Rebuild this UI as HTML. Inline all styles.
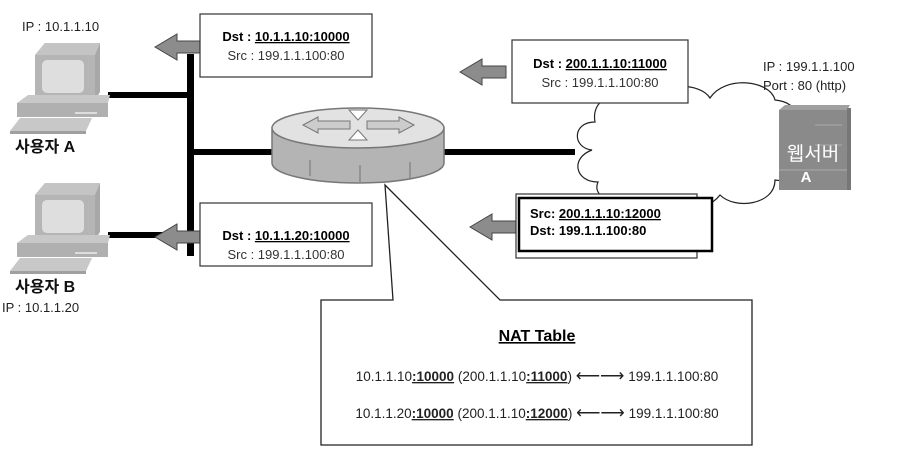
<!DOCTYPE html>
<html><head><meta charset="utf-8"><style>
html,body{margin:0;padding:0;background:#fff;}
svg{display:block;font-family:"Liberation Sans","Noto Sans CJK KR",sans-serif;}
</style></head><body>
<svg width="914" height="449" viewBox="0 0 914 449" xmlns="http://www.w3.org/2000/svg">
<defs>
<g id="pc">
  <polygon points="35,55 45,43 100,43 100,92 95,100 95,55" fill="#a8a8a8"/>
  <polygon points="35,55 45,43 100,43 95,55" fill="#c4c4c4"/>
  <rect x="35" y="55" width="60" height="46" fill="#b5b5b5"/>
  <rect x="42" y="60" width="42" height="33" rx="5" fill="#dedede"/>
  <polygon points="17,103 28,95 110,95 108,103" fill="#c8c8c8"/>
  <rect x="17" y="103" width="91" height="14" fill="#b0b0b0"/>
  <rect x="75" y="112" width="22" height="2" fill="#ddd"/>
  <polygon points="10,131 20,118 92,118 86,131" fill="#c8c8c8"/>
  <rect x="10" y="131" width="76" height="3" fill="#a0a0a0"/>
</g>
<g id="arr">
  <polygon points="0,0 22,-13 22,-6 46,-6 46,6 22,6 22,13" fill="#8c8c8c" stroke="#444" stroke-width="1"/>
</g>
</defs>

<!-- cloud (behind) -->
<path d="M592,150 C572,148 572,122 595,122 C590,95 625,85 650,100 C660,82 700,82 710,98 C725,75 770,80 775,100 C800,102 805,125 790,138 C805,155 800,185 775,180 C775,205 735,210 720,195 C705,215 660,215 650,200 C625,210 590,200 598,182 C575,182 570,158 592,150 Z" fill="#fff" stroke="#222" stroke-width="1.2"/>

<!-- wires -->
<rect x="187" y="54" width="7" height="202" fill="#000"/>
<rect x="108" y="92" width="82" height="6" fill="#000"/>
<rect x="108" y="232" width="82" height="6" fill="#000"/>
<rect x="190" y="149" width="90" height="6" fill="#000"/>
<rect x="440" y="149" width="135" height="6" fill="#000"/>

<!-- PCs -->
<use href="#pc"/>
<use href="#pc" transform="translate(0,140)"/>
<text x="22" y="31" font-size="13" fill="#222">IP : 10.1.1.10</text>
<text x="15" y="152" font-size="16" font-weight="bold" fill="#111">사용자 A</text>
<text x="15" y="292" font-size="16" font-weight="bold" fill="#111">사용자 B</text>
<text x="2" y="312" font-size="13" fill="#222">IP : 10.1.1.20</text>

<!-- boxes left -->
<use href="#arr" transform="translate(155,47)"/>
<rect x="200" y="14" width="172" height="63" fill="#fff" stroke="#333" stroke-width="1.2"/>
<text x="286" y="41" font-size="13" font-weight="bold" text-anchor="middle">Dst : <tspan text-decoration="underline">10.1.1.10:10000</tspan></text>
<text x="286" y="60" font-size="13" text-anchor="middle" fill="#333">Src : 199.1.1.100:80</text>

<use href="#arr" transform="translate(155,237)"/>
<rect x="200" y="203" width="172" height="63" fill="#fff" stroke="#333" stroke-width="1.2"/>
<text x="286" y="240" font-size="13" font-weight="bold" text-anchor="middle">Dst : <tspan text-decoration="underline">10.1.1.20:10000</tspan></text>
<text x="286" y="259" font-size="13" text-anchor="middle" fill="#333">Src : 199.1.1.100:80</text>

<!-- router -->
<path d="M272,128 L272,163 A86,20 0 0 0 444,163 L444,128 Z" fill="#b4b4b4" stroke="#777" stroke-width="1.5"/>
<path d="M310,176 L310,160 M360,183 L360,165 M410,178 L410,162" stroke="#888" stroke-width="1.5"/>
<ellipse cx="358" cy="128" rx="86" ry="20" fill="#e2e2e2" stroke="#777" stroke-width="1.5"/>
<path d="M303,125 L318,117 L318,121 L350,121 L350,129 L318,129 L318,133 Z" fill="#ccc" stroke="#777"/>
<path d="M414,125 L399,117 L399,121 L367,121 L367,129 L399,129 L399,133 Z" fill="#ccc" stroke="#777"/>
<path d="M349,110 L367,110 L358,120 Z M349,140 L367,140 L358,130 Z" fill="#fff" stroke="#777"/>

<!-- right boxes -->
<use href="#arr" transform="translate(460,72)"/>
<rect x="512" y="40" width="176" height="63" fill="#fff" stroke="#333" stroke-width="1.2"/>
<text x="600" y="68" font-size="13" font-weight="bold" text-anchor="middle">Dst : <tspan text-decoration="underline">200.1.1.10:11000</tspan></text>
<text x="600" y="87" font-size="13" text-anchor="middle" fill="#333">Src : 199.1.1.100:80</text>

<use href="#arr" transform="translate(470,227)"/>
<rect x="516" y="194" width="181" height="64" fill="#fff" stroke="#333" stroke-width="1.2"/>
<rect x="519" y="198" width="193" height="53" fill="#fff" stroke="#000" stroke-width="2.5"/>
<text x="530" y="218" font-size="13" font-weight="bold">Src: <tspan text-decoration="underline">200.1.1.10:12000</tspan></text>
<text x="530" y="235" font-size="13" font-weight="bold">Dst: 199.1.1.100:80</text>

<!-- server -->
<text x="763" y="71" font-size="13" fill="#222">IP : 199.1.1.100</text>
<text x="763" y="90" font-size="13" fill="#222">Port : 80 (http)</text>
<rect x="779" y="110" width="68" height="80" fill="#8a8a8a"/>
<polygon points="779,110 785,105 850,105 847,110" fill="#a0a0a0"/>
<rect x="847" y="108" width="4" height="82" fill="#777"/>
<path d="M815,125 L842,125 M815,145 L842,145 M779,170 L847,170" stroke="#aaa"/>
<text x="813" y="160" font-size="19" text-anchor="middle" fill="#fff">웹서버</text>
<text x="806" y="182" font-size="15" font-weight="bold" text-anchor="middle" fill="#fff">A</text>

<!-- NAT callout -->
<path d="M393,300 L385,185 L500,300 L752,300 L752,445 L321,445 L321,300 Z" fill="#fff" stroke="#222" stroke-width="1.3"/>
<text x="537" y="341" font-size="16" font-weight="bold" text-anchor="middle" text-decoration="underline">NAT Table</text>
<text x="537" y="381" font-size="13.5" text-anchor="middle" fill="#222">10.1.1.10<tspan font-weight="bold" text-decoration="underline">:10000</tspan> (200.1.1.10<tspan font-weight="bold" text-decoration="underline">:11000</tspan>) <tspan font-size="17">⟵⟶</tspan> 199.1.1.100:80</text>
<text x="537" y="418" font-size="13.5" text-anchor="middle" fill="#222">10.1.1.20<tspan font-weight="bold" text-decoration="underline">:10000</tspan> (200.1.1.10<tspan font-weight="bold" text-decoration="underline">:12000</tspan>) <tspan font-size="17">⟵⟶</tspan> 199.1.1.100:80</text>
</svg>
</body></html>
